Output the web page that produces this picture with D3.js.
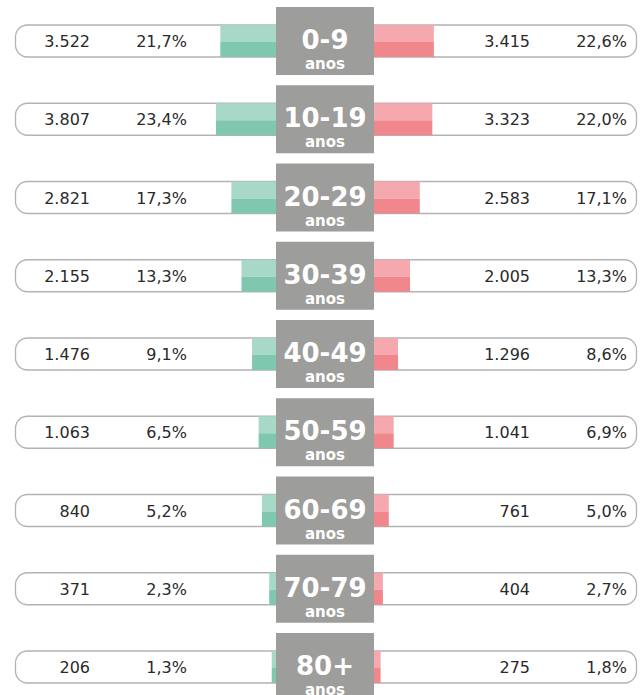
<!DOCTYPE html>
<html>
<head>
<script src="https://d3js.org/d3.v7.min.js"></script>
<style>
body { margin: 0; background: white; }
</style>
</head>
<body>
<div id="chart"></div>
<script>
// data
const ages = ["0-9", "10-19", "20-29", "30-39", "40-49", "50-59", "60-69", "70-79", "80+"];
const leftCount = ["3.522", "3.807", "2.821", "2.155", "1.476", "1.063", "840", "371", "206"];
const leftPct = [21.7, 23.4, 17.3, 13.3, 9.1, 6.5, 5.2, 2.3, 1.3];
const rightCount = ["3.415", "3.323", "2.583", "2.005", "1.296", "1.041", "761", "404", "275"];
const rightPct = [22.6, 22.0, 17.1, 13.3, 8.6, 6.9, 5.0, 2.7, 1.8];

const rows = ages.map((a, i) => ({
  age: a, lc: leftCount[i], lp: leftPct[i], rc: rightCount[i], rp: rightPct[i]
}));

const width = 643, height = 695;
const cx = 325;
const pillH = 32, boxW = 98, boxH = 68;
const fmt = v => v.toFixed(1).replace(".", ",") + "%";

const y = d3.scalePoint().domain(ages).range([41, 667]);
const xl = d3.scaleLinear().domain([0, 25]).range([cx - 50, cx - 50 - 63]);
const xr = d3.scaleLinear().domain([0, 25]).range([cx + 51, cx + 51 + 64]);

const svg = d3.create("svg")
  .attr("width", width)
  .attr("height", height)
  .attr("viewBox", [0, 0, width, height]);

const g = svg.selectAll("g.row")
  .data(rows)
  .join("g")
  .attr("class", "row")
  .attr("transform", d => `translate(0,${y(d.age)})`);

// pill outline
g.append("rect")
  .attr("x", 15.5).attr("y", -pillH / 2)
  .attr("width", 621).attr("height", pillH)
  .attr("rx", 12)
  .attr("fill", "white")
  .attr("stroke", "#b3b3b3")
  .attr("stroke-width", 1.3);

// green bars (two tones)
g.append("rect")
  .attr("x", d => xl(d.lp)).attr("y", -pillH / 2)
  .attr("width", d => cx - xl(d.lp)).attr("height", pillH / 2 + 1)
  .attr("fill", "#a8d8c8");
g.append("rect")
  .attr("x", d => xl(d.lp)).attr("y", 1)
  .attr("width", d => cx - xl(d.lp)).attr("height", pillH / 2 - 1)
  .attr("fill", "#80c7b0");

// red bars (two tones)
g.append("rect")
  .attr("x", cx).attr("y", -pillH / 2)
  .attr("width", d => xr(d.rp) - cx).attr("height", pillH / 2 + 1)
  .attr("fill", "#f5a8ae");
g.append("rect")
  .attr("x", cx).attr("y", 1)
  .attr("width", d => xr(d.rp) - cx).attr("height", pillH / 2 - 1)
  .attr("fill", "#f0878c");

// gray age box
g.append("rect")
  .attr("x", cx - boxW / 2).attr("y", -boxH / 2)
  .attr("width", boxW).attr("height", boxH)
  .attr("fill", "#9d9d9b");

g.append("text")
  .attr("x", cx).attr("y", 8)
  .attr("text-anchor", "middle")
  .attr("fill", "white")
  .attr("font-family", "DejaVu Sans")
  .attr("font-weight", "bold")
  .attr("font-size", 26)
  .text(d => d.age);

g.append("text")
  .attr("x", cx).attr("y", 28)
  .attr("text-anchor", "middle")
  .attr("fill", "white")
  .attr("font-family", "DejaVu Sans")
  .attr("font-weight", "bold")
  .attr("font-size", 15)
  .text("anos");

// numbers
const txt = (xpos, f) => g.append("text")
  .attr("x", xpos).attr("y", 6)
  .attr("text-anchor", "end")
  .attr("fill", "#2a2a2a")
  .attr("font-family", "DejaVu Sans")
  .attr("font-size", 16)
  .text(f);

txt(90, d => d.lc);
txt(187, d => fmt(d.lp));
txt(530, d => d.rc);
txt(627, d => fmt(d.rp));

document.getElementById("chart").appendChild(svg.node());
</script>
</body>
</html>
